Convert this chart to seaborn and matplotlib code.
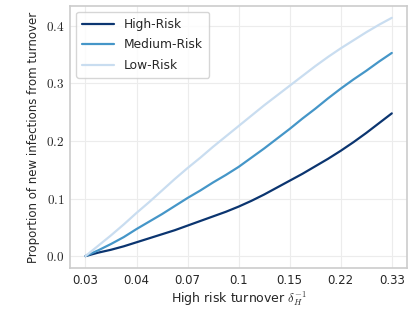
import numpy as np
import pandas as pd
import matplotlib
matplotlib.use("Agg")
import matplotlib.pyplot as plt
import seaborn as sns

# tick labels of the turnover axis (evenly spaced on the plot)
tick_labels = ["0.03", "0.04", "0.07", "0.1", "0.15", "0.22", "0.33"]

# sample positions: quarter steps between the labelled ticks
pos = np.arange(25) / 4.0

high_risk = [0.0, 0.006, 0.011, 0.017, 0.024, 0.031, 0.038, 0.045, 0.053,
             0.061, 0.069, 0.077, 0.086, 0.096, 0.107, 0.119, 0.131,
             0.143, 0.156, 0.169, 0.183, 0.198, 0.214, 0.231, 0.248]
medium_risk = [0.0, 0.010, 0.021, 0.033, 0.047, 0.060, 0.073, 0.087, 0.101,
               0.114, 0.128, 0.141, 0.155, 0.171, 0.187, 0.204, 0.221,
               0.239, 0.256, 0.274, 0.291, 0.307, 0.322, 0.338, 0.353]
low_risk = [0.0, 0.018, 0.036, 0.055, 0.075, 0.094, 0.114, 0.134, 0.153,
            0.171, 0.190, 0.208, 0.226, 0.244, 0.262, 0.279, 0.296,
            0.313, 0.330, 0.346, 0.361, 0.375, 0.389, 0.402, 0.414]

groups = ["High-Risk", "Medium-Risk", "Low-Risk"]
colors = ["#0b3570", "#4596c8", "#c9ddf0"]

df = pd.DataFrame({
    "pos": np.concatenate([pos, pos, pos]),
    "prop": np.concatenate([high_risk, medium_risk, low_risk]),
    "group": np.repeat(groups, len(pos)),
})

sns.set_style("whitegrid", {"grid.color": "#ececec", "axes.edgecolor": "#cccccc"})
plt.rcParams["font.family"] = ["DejaVu Sans"]
plt.rcParams["mathtext.fontset"] = "cm"

fig, ax = plt.subplots(figsize=(4.15, 3.12), dpi=100)
fig.subplots_adjust(left=0.169, right=0.981, top=0.981, bottom=0.141)

sns.lineplot(data=df, x="pos", y="prop", hue="group", hue_order=groups,
             palette=colors, linewidth=1.6, ax=ax)

ax.set_xticks(range(len(tick_labels)))
ax.set_xticklabels(tick_labels, fontsize=8.5)
yt = [0.0, 0.1, 0.2, 0.3, 0.4]
ax.set_yticks(yt)
ax.set_yticklabels(["$%.1f$" % v for v in yt], fontsize=9.5)
ax.tick_params(axis="both", length=0, pad=4)

ax.set_xlabel(r"High risk turnover $\delta_H^{-1}$", fontsize=9, labelpad=2)
ax.set_ylabel("Proportion of new infections from turnover", fontsize=8.5, labelpad=4)

for s in ax.spines.values():
    s.set_linewidth(1.2)
    s.set_color("#cccccc")

leg = ax.legend(loc="upper left", fontsize=8.8, frameon=True, handlelength=2.6,
                borderpad=0.5, labelspacing=0.6)
leg.get_frame().set_edgecolor("#cccccc")

fig.savefig("out.png", dpi=100)
